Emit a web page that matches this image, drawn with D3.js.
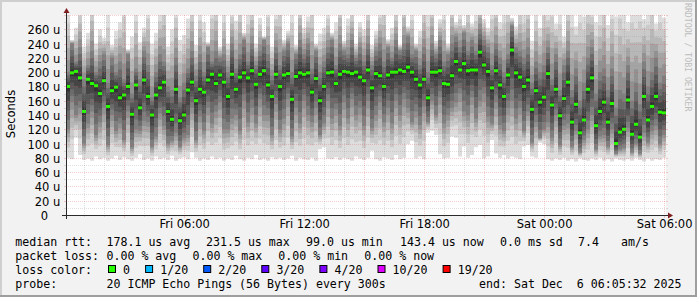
<!DOCTYPE html>
<html><head><meta charset="utf-8">
<script src="https://cdn.jsdelivr.net/npm/d3@7"></script>
<style>
html,body{margin:0;padding:0;background:#f2f2f2;}
svg{display:block;}
text{white-space:pre;}
</style></head><body>
<svg id="c" width="697" height="297"></svg>
<script>
// ---------------- data ----------------
const startTime = Date.UTC(2025, 11, 5, 0, 5, 32);
const endTime = Date.UTC(2025, 11, 6, 6, 5, 32);
const stepMinutes = 12;

// median rtt (microseconds), one value per 12-minute column
const median = [
 180,199,201,192,145,190,184,181,170,188,
 152,174,179,164,168,180,141,182,150,189,
 166,140,168,178,186,145,134,176,132,140,
 175,186,160,176,172,189,197,184,196,186,
 166,197,176,193,199,192,202,183,197,202,
 182,166,197,180,196,198,162,194,199,197,
 199,172,191,160,180,199,200,184,197,201,
 200,198,200,193,188,203,178,198,195,180,
 196,200,200,203,201,207,200,190,182,190,
 164,200,200,202,184,183,195,215,203,212,
 202,203,203,228,210,201,178,202,182,166,
 196,231,199,193,180,189,148,174,158,165,
 198,154,176,139,163,186,130,155,115,133,
 176,192,125,145,158,130,156,100,116,120,
 161,113,127,109,166,133,152,166,144,143
];
// smallest ping of each column
const pingMin = [
 80,78,108,84,77,79,76,82,78,80,
 76,79,83,77,81,78,76,80,85,77,
 79,76,82,78,80,77,83,76,79,81,
 78,88,80,76,79,77,82,78,80,76,
 79,77,83,78,76,80,78,84,77,79,
 76,81,78,80,77,79,83,76,80,78,
 77,80,76,92,95,79,78,81,77,80,
 78,76,82,79,77,80,90,78,76,81,
 79,77,84,78,80,99,104,79,82,78,
 115,118,112,85,79,80,110,108,82,96,
 80,84,95,98,79,82,105,86,80,84,
 79,82,80,78,96,98,82,80,101,99,
 78,76,79,77,80,76,78,75,79,77,
 76,79,77,80,76,78,75,79,77,76,
 78,76,80,77,75,79,76,78,77,80
];
// lower quartile ping
const pingQ1 = [
 120,158,140,150,100,128,145,112,130,150,
 98,140,118,128,105,145,95,120,118,132,
 130,96,110,142,125,100,104,115,96,108,
 112,150,105,138,118,150,128,145,158,120,
 120,135,140,118,160,130,150,128,162,140,
 140,112,155,120,135,162,110,150,128,160,
 140,130,150,112,128,160,135,148,125,158,
 135,162,140,150,125,160,122,140,158,130,
 150,128,160,140,162,150,130,145,126,152,
 130,160,140,165,128,140,150,158,170,145,
 140,165,135,160,170,138,128,158,126,118,
 150,160,135,150,118,145,102,130,108,120,
 130,108,140,98,125,128,96,118,88,105,
 120,140,92,110,112,96,120,86,92,94,
 122,88,100,86,115,102,118,125,100,112
];
// upper quartile ping
const pingQ3 = [
 200,240,215,235,190,210,230,200,215,225,
 185,220,200,215,190,225,170,205,190,230,
 210,165,200,225,215,180,175,220,165,185,
 205,230,195,225,200,235,215,230,220,225,
 200,240,205,225,245,215,240,210,230,245,
 225,195,235,210,230,240,200,225,245,225,
 240,205,230,200,215,235,245,210,240,230,
 225,245,220,235,215,240,210,230,240,215,
 235,220,245,230,240,250,225,230,210,235,
 200,240,225,245,215,225,240,250,235,255,
 230,245,230,260,245,235,210,240,220,200,
 225,265,235,230,220,235,185,215,200,210,
 235,190,225,175,210,230,175,205,160,185,
 220,235,170,200,205,175,205,150,175,170,
 210,160,185,155,215,180,200,220,185,195
];
// largest ping of each column
const pingMax = [
 285,245,262,290,236,255,300,240,260,248,
 282,238,258,270,300,232,250,288,242,262,
 292,240,255,283,300,236,260,290,245,252,
 275,298,238,284,270,242,290,300,236,280,
 240,287,272,300,255,280,295,240,276,250,
 290,236,284,300,245,258,286,238,296,262,
 278,300,240,254,262,285,255,270,300,244,
 275,288,240,270,260,294,238,258,285,300,
 246,262,290,238,300,264,285,240,258,292,
 280,300,244,274,288,240,300,270,284,266,
 295,268,282,300,274,262,290,300,270,285,
 300,276,264,292,280,300,244,286,262,296,
 282,300,268,290,250,300,285,264,296,278,
 300,288,270,282,300,266,292,278,300,284,
 270,296,280,300,274,288,300,268,290,276
];

const yMax = 280;
const yMinorValues = d3.range(0, 281, 10);
const yTickValues = [0,20,40,60,80,100,120,140,160,180,200,220,240,260];
const yTickLabels = ["0","20 u","40 u","60 u","80 u","100 u","120 u","140 u","160 u","180 u","200 u","220 u","240 u","260 u"];
const xTickTimes = [Date.UTC(2025,11,5,6), Date.UTC(2025,11,5,12), Date.UTC(2025,11,5,18), Date.UTC(2025,11,6,0), Date.UTC(2025,11,6,6)];
const xTickLabels = ["Fri 06:00","Fri 12:00","Fri 18:00","Sat 00:00","Sat 06:00"];

const lossLabels = ["0","1/20","2/20","3/20","4/20","10/20","19/20"];
const lossColors = ["#26ff00","#00b8ff","#0059ff","#5e00ff","#7e00ff","#dd00ff","#ff0000"];

const legendRow1 = [["median rtt:",15.3],["178.1 us avg",106.5],["231.5 us max",206],["99.0 us min",306],["143.4 us now",400],["0.0 ms sd",500],["7.4",578],["am/s",621]];
const legendRow2 = [["packet loss:",15.3],["0.00 % avg",106.5],["0.00 % max",192.5],["0.00 % min",278.3],["0.00 % now",364.3]];
const probeText = "20 ICMP Echo Pings (56 Bytes) every 300s";
const endText = "end: Sat Dec  6 06:05:32 2025";

// ---------------- drawing ----------------
const W = 697, H = 297;
const X0 = 66, X1 = 666, Y0 = 215, Y1 = 15;
const svg = d3.select("#c");
const mono = "'DejaVu Sans Mono', monospace";
const sans = "'DejaVu Sans', sans-serif";

svg.append("rect").attr("width", W).attr("height", H).attr("fill", "#f2f2f2");
svg.append("rect").attr("x",0).attr("y",0).attr("width",W).attr("height",2).attr("fill","#cfcfcf");
svg.append("rect").attr("x",0).attr("y",0).attr("width",2).attr("height",H).attr("fill","#cfcfcf");
svg.append("rect").attr("x",0).attr("y",H-2).attr("width",W).attr("height",2).attr("fill","#9e9e9e");
svg.append("rect").attr("x",W-2).attr("y",0).attr("width",2).attr("height",H).attr("fill","#9e9e9e");

svg.append("rect").attr("x", X0).attr("y", Y1).attr("width", X1-X0).attr("height", Y0-Y1).attr("fill", "#ffffff");

const x = d3.scaleUtc().domain([startTime, endTime]).range([X0, X1]);
const y = d3.scaleLinear().domain([0, yMax]).range([Y0, Y1]);

const step = stepMinutes * 60000;
const cols = median.map((m, i) => ({t: startTime + i*step, i}));
const series = cols.concat([{t: Math.min(endTime, startTime + median.length*step), i: median.length-1}]);

svg.append("clipPath").attr("id","clip").append("rect")
  .attr("x", X0).attr("y", Y1).attr("width", X1-X0).attr("height", Y0-Y1);
const plot = svg.append("g").attr("clip-path","url(#clip)");

// smoke: 10 nested bands between sorted pings (outer light -> inner dark)
function edges(i, k) {
  const lo = pingMin[i], q1 = pingQ1[i], m = median[i], q3 = pingQ3[i], hi = pingMax[i];
  if (k <= 5) {
    const fl = Math.pow(k/5, 0.65);
    return [lo + (q1-lo)*fl, hi - (hi-q3)*k/5];
  }
  const f = (k-5)/4.5;
  return [q1 + (m-q1)*f, q3 - (q3-m)*f];
}
for (let k = 0; k < 10; k++) {
  const g = Math.floor(190/10*(10-(k+1))) + 50;
  const col = d3.rgb(g,g,g).formatHex();
  const area = d3.area()
    .x(d => x(d.t))
    .y0(d => y(edges(d.i,k)[0]))
    .y1(d => y(edges(d.i,k)[1]))
    .curve(d3.curveStepAfter);
  plot.append("path").datum(series).attr("d", area).attr("fill", col);
}

// median marks
plot.selectAll("rect.med").data(cols).enter().append("rect")
  .attr("class","med")
  .attr("x", d => x(d.t))
  .attr("width", d => x(d.t+step) - x(d.t))
  .attr("y", d => y(median[d.i]) - 1.5)
  .attr("height", 3)
  .attr("fill", lossColors[0]);

// grid
const grid = svg.append("g");
const minorCol = "rgba(143,143,143,0.28)";
const majorCol = "rgba(222,79,79,0.28)";
yMinorValues.forEach(v => {
  if (v === 0) return;
  const major = v % 20 === 0;
  const yy = Math.round(y(v)) + 0.5;
  const c = major ? majorCol : minorCol;
  grid.append("line").attr("x1",X0).attr("x2",X1).attr("y1",yy).attr("y2",yy)
    .attr("stroke",c).attr("stroke-dasharray","1 1");
  grid.append("line").attr("x1",X0-2).attr("x2",X0).attr("y1",yy).attr("y2",yy).attr("stroke",c);
  grid.append("line").attr("x1",X1).attr("x2",X1+2).attr("y1",yy).attr("y2",yy).attr("stroke",c);
});
const hourTicks = d3.utcHour.every(1).range(new Date(startTime), new Date(endTime));
hourTicks.forEach(t => {
  const major = t.getUTCHours() % 3 === 0;
  const xx = Math.round(x(t)) + 0.5;
  const c = major ? majorCol : minorCol;
  grid.append("line").attr("x1",xx).attr("x2",xx).attr("y1",Y1).attr("y2",Y0)
    .attr("stroke",c).attr("stroke-dasharray","1 1");
  grid.append("line").attr("x1",xx).attr("x2",xx).attr("y1",Y0).attr("y2",Y0+(major?3:2)).attr("stroke",c);
});

// axes
const axisCol = "#2a2a2a";
svg.append("line").attr("x1",X0-4).attr("x2",X1+3).attr("y1",Y0+0.5).attr("y2",Y0+0.5).attr("stroke",axisCol);
svg.append("line").attr("x1",X0+0.5).attr("x2",X0+0.5).attr("y1",Y0+4).attr("y2",Y1-3).attr("stroke",axisCol);
const arrowCol = "#801f1f";
svg.append("path").attr("d",`M${X1+2},${Y0-2.5}L${X1+2},${Y0+3.5}L${X1+7},${Y0+0.5}Z`).attr("fill",arrowCol);
svg.append("path").attr("d",`M${X0-2.5},${Y1-2}L${X0+3.5},${Y1-2}L${X0+0.5},${Y1-7}Z`).attr("fill",arrowCol);

yTickValues.forEach((v,i) => {
  svg.append("text").attr("x", v === 0 ? 48 : 60.3).attr("y", Math.round(y(v)) + 4.5)
    .attr("text-anchor","end").attr("font-family",sans).attr("font-size",11.5)
    .attr("fill","#000").text(yTickLabels[i]);
});
xTickTimes.forEach((t,i) => {
  svg.append("text").attr("x", x(t)+0.5).attr("y", 228.3)
    .attr("text-anchor","middle").attr("font-family",sans).attr("font-size",11.5)
    .attr("fill","#000").text(xTickLabels[i]);
});
svg.append("text").attr("transform","translate(14.5,114) rotate(-90)")
  .attr("text-anchor","middle").attr("font-family",sans).attr("font-size",11.5)
  .attr("fill","#000").text("Seconds");
svg.append("text").attr("transform","translate(684.5,3) rotate(90)")
  .attr("font-family",mono).attr("font-size",8.2).attr("fill","#bdbdbd")
  .text("RRDTOOL / TOBI OETIKER");

// legend
const fs = 11.6;
const rows = [246.4, 260.2, 274, 287.8];
function lt(str, xx, yy, anchor) {
  svg.append("text").attr("x",xx).attr("y",yy).attr("font-family",mono).attr("font-size",fs)
    .attr("fill","#000").attr("text-anchor",anchor||"start").text(str);
}
legendRow1.forEach(d => lt(d[0], d[1], rows[0]));
legendRow2.forEach(d => lt(d[0], d[1], rows[1]));
lt("loss color:", 15.3, rows[2]);
let sx = 108.5;
lossLabels.forEach((lab, i) => {
  svg.append("rect").attr("x", sx).attr("y", 265.5).attr("width", 7).attr("height", 7)
    .attr("fill", lossColors[i]).attr("stroke","#000").attr("stroke-width",1);
  lt(lab, sx + 14.6, rows[2]);
  sx = sx + 14.6 + lab.length*7 + 15.5;
});
lt("probe:", 15.3, rows[3]);
lt(probeText, 106.5, rows[3]);
lt(endText, 681.5, rows[3], "end");
</script>
</body></html>
